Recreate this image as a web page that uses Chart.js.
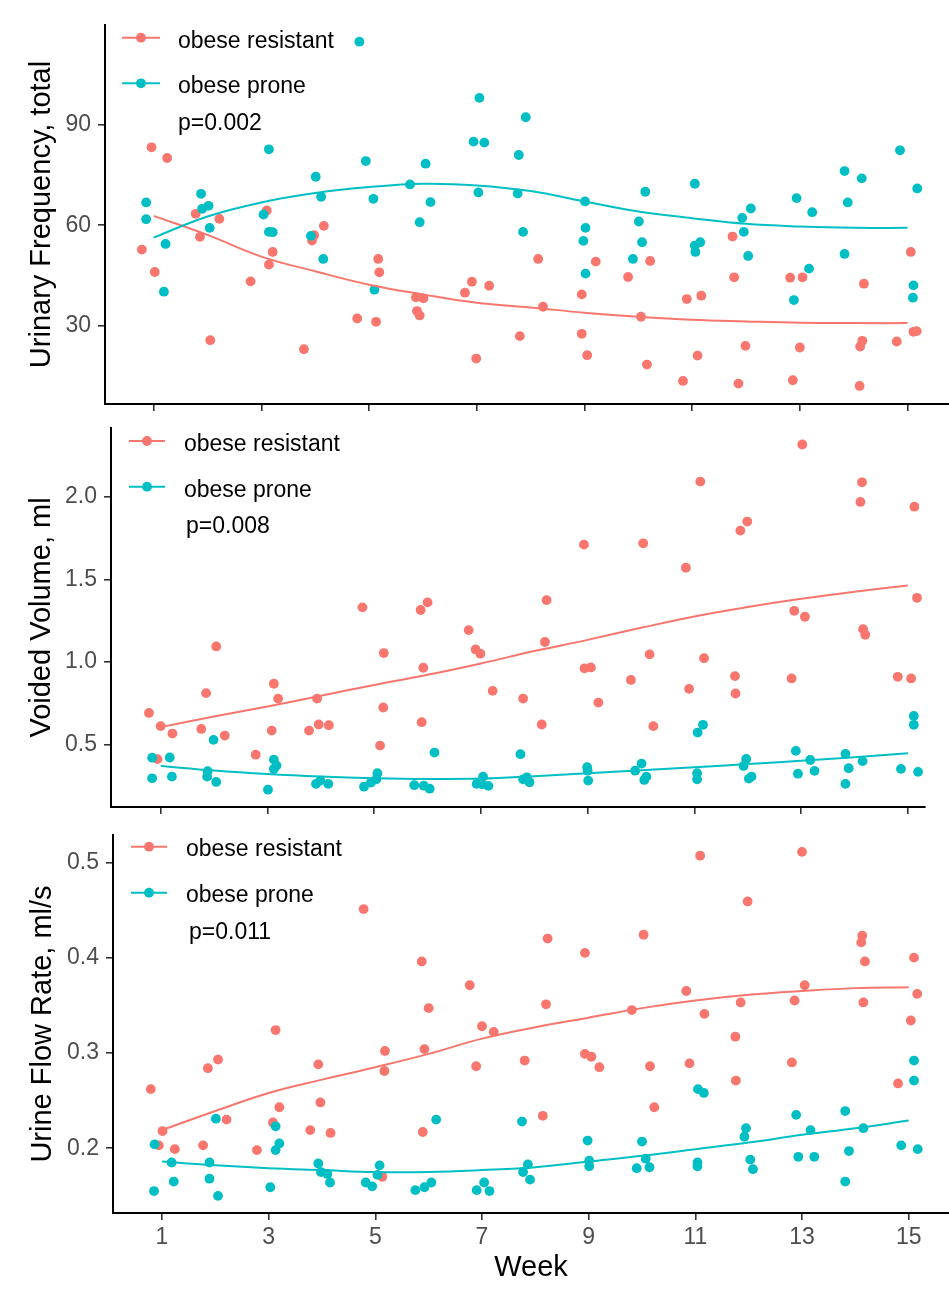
<!DOCTYPE html>
<html>
<head>
<meta charset="utf-8">
<script src="https://cdn.jsdelivr.net/npm/chart.js@4.4.1/dist/chart.umd.min.js"></script>
<style>
html,body{margin:0;padding:0;background:#fff;}
#wrap{position:relative;width:949px;height:1292px;overflow:hidden;}
canvas{position:absolute;left:0;}
</style>
</head>
<body>
<div id="wrap">
<canvas id="c1" width="949" height="420" style="top:0px"></canvas>
<canvas id="c2" width="949" height="400" style="top:420px"></canvas>
<canvas id="c3" width="949" height="472" style="top:820px"></canvas>
</div>
<script>
// ---------- data ----------
const groupLabels = ['obese resistant', 'obese prone'];
const weeks = [1,2,3,4,5,6,7,8,9,10,11,12,13,14,15];
const weekTicks = [1,3,5,7,9,11,13,15];
const xTitle = 'Week';

// Panel 1: Urinary frequency
const freqTitle = 'Urinary Frequency, total';
const freqTicks = [30,60,90];
const freqP = 'p=0.002';
const freqResWeek = [0.78,0.96,1.02,1.25,1.78,1.86,2.05,2.22,2.80,3.10,3.14,3.21,3.79,3.94,3.98,4.16,4.78,5.13,5.17,5.19,5.87,6.01,5.89,5.94,6.78,6.91,6.99,7.23,8.14,7.80,8.23,8.95,8.95,9.05,9.21,9.81,10.05,10.22,10.16,10.83,10.90,11.17,11.10,11.75,11.78,11.86,11.99,12.82,13.05,12.87,13.00,14.19,14.16,14.12,14.11,14.80,15.06,15.11,15.17];
const freqResVal = [52.7,83.3,46.0,80.1,63.4,56.5,25.6,61.9,43.2,64.4,48.2,52.0,22.9,55.4,57.0,59.8,32.1,31.1,49.9,45.9,38.4,38.1,34.3,33.0,39.8,43.1,20.1,41.9,49.9,26.8,35.6,27.5,39.3,21.1,49.1,44.5,32.6,49.3,18.3,13.4,37.9,38.9,21.0,56.6,44.4,12.6,23.9,44.3,44.4,13.6,23.4,42.5,25.4,23.7,11.9,25.2,52.0,28.1,28.3];
const freqProWeek = [4.82,0.86,0.86,1.22,1.19,1.88,1.90,2.02,2.04,3.14,3.04,3.14,3.21,4.01,4.11,3.92,4.15,4.94,5.08,5.10,5.76,6.05,6.14,5.94,6.94,7.03,7.05,7.14,7.91,7.78,7.76,7.86,9.01,9.02,8.98,9.02,10.13,10.01,10.07,9.90,11.05,11.05,11.15,11.06,11.93,12.09,11.96,12.04,12.94,13.23,13.17,12.89,13.83,14.15,13.89,13.83,14.86,15.18,15.11,15.10];
const freqProVal = [114.9,66.8,61.8,54.4,40.1,69.4,64.9,65.8,59.2,82.7,63.2,58.0,57.9,74.5,68.5,56.8,49.9,79.2,67.9,40.7,72.2,78.4,66.9,60.9,85.0,69.8,98.1,84.7,92.3,81.0,69.5,58.0,67.1,59.2,55.3,45.5,70.0,61.1,54.9,49.9,72.4,53.9,54.9,52.0,62.2,65.0,58.0,50.8,68.1,63.9,47.0,37.6,76.2,74.0,66.8,51.4,82.4,71.0,42.0,38.3];
const freqResFit = [62.8,57.1,50.6,46.2,42.2,39.3,36.8,35.4,33.8,32.6,31.7,31.2,30.8,30.7,30.7];
const freqProFit = [56.3,62.6,66.8,69.6,71.4,72.4,71.9,70.2,67.1,64.1,62.1,60.4,59.6,59.2,59.2];

// Panel 2: Voided volume
const volTitle = 'Voided Volume, ml';
const volTicks = [0.5,1.0,1.5,2.0];
const volP = 'p=0.008';
const volResWeek = [0.78,1.00,0.94,1.22,1.76,1.85,2.04,2.20,2.78,3.12,3.20,3.08,3.93,3.78,3.96,4.15,4.78,5.18,5.17,5.11,5.87,6.00,5.92,5.89,6.77,6.90,6.99,7.22,7.79,8.14,8.23,8.20,8.93,8.94,9.06,9.20,9.81,10.04,10.16,10.23,10.84,10.90,11.11,11.18,11.86,11.99,11.76,11.77,13.02,12.87,13.07,12.82,14.14,14.11,14.16,14.20,14.81,15.12,15.17,15.06];
const volResVal = [0.69,0.61,0.41,0.565,0.593,0.81,1.093,0.553,0.437,0.867,0.777,0.583,0.777,0.583,0.62,0.616,1.33,1.053,0.723,0.492,1.314,1.36,0.964,0.634,1.192,1.075,1.049,0.824,0.777,0.62,1.374,1.12,1.71,0.96,0.966,0.753,0.89,1.718,1.045,0.61,1.57,0.836,2.092,1.022,1.795,1.85,0.913,0.808,2.317,1.309,1.273,0.899,2.088,1.969,1.198,1.164,0.909,1.94,1.388,0.899];
const volProWeek = [0.84,1.17,0.84,1.21,1.99,1.88,1.87,2.04,3.01,3.12,3.17,3.12,3.91,3.99,4.14,4.81,4.94,5.06,5.04,5.75,5.93,6.04,6.13,6.92,7.04,7.02,7.14,7.74,7.79,7.86,7.91,8.99,9.01,9.00,10.01,9.89,10.10,10.06,11.16,11.06,11.05,11.05,11.97,11.92,12.07,12.02,12.90,13.17,13.25,12.94,13.83,14.15,13.89,13.83,14.87,15.11,15.11,15.19];
const volProVal = [0.419,0.42,0.294,0.304,0.527,0.337,0.304,0.272,0.225,0.407,0.371,0.35,0.26,0.28,0.26,0.243,0.268,0.325,0.288,0.252,0.249,0.231,0.45,0.26,0.304,0.258,0.248,0.44,0.288,0.30,0.27,0.361,0.28,0.34,0.383,0.34,0.304,0.284,0.618,0.571,0.325,0.288,0.411,0.369,0.304,0.292,0.46,0.405,0.339,0.322,0.442,0.398,0.355,0.26,0.351,0.672,0.618,0.333];
const volResFit = [0.604,0.668,0.729,0.794,0.860,0.921,0.990,1.065,1.133,1.206,1.275,1.332,1.382,1.425,1.463];
const volProFit = [0.369,0.341,0.320,0.305,0.295,0.290,0.292,0.307,0.325,0.343,0.361,0.380,0.400,0.422,0.446];

// Panel 3: Urine flow rate
const flowTitle = 'Urine Flow Rate, ml/s';
const flowTicks = [0.2,0.3,0.4,0.5];
const flowP = 'p=0.011';
const flowResWeek = [0.79,1.01,0.94,1.24,1.86,2.05,1.77,2.21,2.78,3.13,3.20,3.08,3.93,3.97,3.78,4.16,4.78,5.18,5.17,5.13,5.87,6.00,5.92,5.89,6.77,6.89,7.00,7.22,7.80,8.14,8.23,8.20,8.93,8.93,9.05,9.20,9.81,10.03,10.15,10.23,10.83,10.89,11.09,11.17,11.98,11.85,11.75,11.76,13.00,13.05,12.86,12.81,14.13,14.11,14.18,14.15,14.80,15.10,15.16,15.04];
const flowResVal = [0.262,0.218,0.203,0.199,0.284,0.293,0.203,0.230,0.198,0.324,0.243,0.227,0.288,0.248,0.219,0.216,0.451,0.302,0.281,0.170,0.396,0.347,0.304,0.217,0.371,0.286,0.328,0.322,0.292,0.234,0.420,0.351,0.405,0.299,0.296,0.285,0.345,0.424,0.286,0.243,0.365,0.289,0.507,0.341,0.459,0.353,0.317,0.271,0.511,0.371,0.355,0.290,0.423,0.416,0.396,0.353,0.268,0.400,0.362,0.334];
const flowProWeek = [0.86,0.85,1.18,1.22,2.01,1.89,1.89,2.05,3.03,3.13,3.20,3.13,3.93,3.98,4.10,4.15,4.82,4.94,5.08,5.04,5.75,5.92,6.05,6.14,6.90,7.04,7.14,7.75,7.86,7.77,7.90,8.98,9.01,9.01,10.00,10.07,9.90,10.14,11.05,11.16,11.04,11.04,11.95,11.92,12.03,12.08,12.89,13.16,12.93,13.23,13.81,14.15,13.88,13.81,14.86,15.10,15.10,15.17];
const flowProVal = [0.204,0.155,0.185,0.165,0.231,0.185,0.168,0.150,0.159,0.223,0.205,0.198,0.184,0.175,0.173,0.164,0.164,0.160,0.182,0.172,0.156,0.159,0.164,0.230,0.156,0.164,0.155,0.228,0.183,0.175,0.167,0.208,0.187,0.181,0.207,0.189,0.179,0.180,0.262,0.258,0.185,0.181,0.221,0.212,0.188,0.178,0.235,0.219,0.191,0.191,0.239,0.221,0.197,0.165,0.203,0.292,0.271,0.199];
const flowResFit = [0.219,0.239,0.258,0.272,0.285,0.299,0.315,0.327,0.337,0.347,0.355,0.361,0.365,0.368,0.369];
const flowProFit = [0.186,0.182,0.179,0.177,0.175,0.175,0.177,0.180,0.186,0.192,0.199,0.206,0.214,0.221,0.229];

// ---------- styling ----------
const RED = '#F8766D';
const CYAN = '#00BFC4';
const FONT = '"Liberation Sans", Arial, Helvetica, sans-serif';
Chart.defaults.font.family = FONT;

const pts = (xs, ys) => xs.map((x, i) => ({x: x, y: ys[i]}));

const legendPlugin = {
  id: 'inlineLegend',
  afterDraw(chart, args, o) {
    if (!o || !o.rows) return;
    const ctx = chart.ctx, ca = chart.chartArea;
    ctx.save();
    [RED, CYAN].forEach((col, i) => {
      const y = ca.top + o.rows[i];
      const x0 = ca.left + o.lineX0, x1 = ca.left + o.lineX1;
      ctx.strokeStyle = col; ctx.lineWidth = 2;
      ctx.beginPath(); ctx.moveTo(x0, y); ctx.lineTo(x1, y); ctx.stroke();
      ctx.fillStyle = col;
      ctx.beginPath(); ctx.arc((x0 + x1) / 2, y, 4.9, 0, Math.PI * 2); ctx.fill();
      ctx.fillStyle = '#000';
      ctx.font = '23px ' + FONT;
      ctx.textAlign = 'left'; ctx.textBaseline = 'alphabetic';
      ctx.fillText(groupLabels[i], ca.left + o.textX, ca.top + o.base[i]);
    });
    ctx.fillStyle = '#000';
    ctx.font = '23px ' + FONT;
    ctx.fillText(o.pText, ca.left + o.pX, ca.top + o.base[2]);
    ctx.restore();
  }
};

function makePanel(id, p) {
  const datasets = [
    {label: groupLabels[0], data: pts(p.resW, p.resV), backgroundColor: RED, pointBackgroundColor: RED,
     pointRadius: 4.9, pointBorderWidth: 0, showLine: false, order: 4},
    {label: groupLabels[1], data: pts(p.proW, p.proV), backgroundColor: CYAN, pointBackgroundColor: CYAN,
     pointRadius: 4.9, pointBorderWidth: 0, showLine: false, order: 3},
    {label: groupLabels[0] + ' fit', data: pts(weeks, p.resFit), borderColor: RED, borderWidth: 2,
     pointRadius: 0, showLine: true, tension: 0.4, fill: false, order: 2},
    {label: groupLabels[1] + ' fit', data: pts(weeks, p.proFit), borderColor: CYAN, borderWidth: 2,
     pointRadius: 0, showLine: true, tension: 0.4, fill: false, order: 1}
  ];
  return new Chart(document.getElementById(id), {
    type: 'scatter',
    data: {datasets},
    plugins: [legendPlugin],
    options: {
      responsive: false, animation: false, devicePixelRatio: 1, events: [],
      layout: {padding: p.pad, autoPadding: false},
      plugins: {
        legend: {display: false}, tooltip: {enabled: false},
        inlineLegend: p.legend
      },
      scales: {
        x: {
          type: 'linear', min: p.xMin, max: p.xMax,
          afterBuildTicks: s => { s.ticks = weekTicks.map(v => ({value: v})); },
          afterFit: s => { s.height = p.xH; s.paddingLeft = 0; s.paddingRight = 0; s.paddingTop = 0; s.paddingBottom = 0; },
          ticks: {display: p.xLabels, autoSkip: false, maxRotation: 0, padding: 4,
                  color: '#4D4D4D', font: {size: 23}, callback: v => String(v)},
          grid: {drawOnChartArea: false, drawTicks: true, tickLength: 7, color: '#333333', lineWidth: 1.6},
          border: {display: true, color: '#000000', width: 2},
          title: {display: p.xLabels, text: xTitle, color: '#000', font: {size: 29}, padding: 0}
        },
        y: {
          type: 'linear', min: p.yMin, max: p.yMax,
          afterBuildTicks: s => { s.ticks = p.yTicks.map(v => ({value: v})); },
          afterFit: s => { s.width = p.yW; s.paddingLeft = 0; s.paddingRight = 0; s.paddingTop = 0; s.paddingBottom = 0; },
          ticks: {padding: 7, color: '#4D4D4D', font: {size: 23}, callback: v => v.toFixed(p.dec)},
          grid: {drawOnChartArea: false, drawTicks: true, tickLength: 7, color: '#333333', lineWidth: 1.6},
          border: {display: true, color: '#000000', width: 2},
          title: {display: true, text: p.yTitle, color: '#000', font: {size: 29}, padding: 0}
        }
      }
    }
  });
}

makePanel('c1', {
  resW: freqResWeek, resV: freqResVal, proW: freqProWeek, proV: freqProVal,
  resFit: freqResFit, proFit: freqProFit, yTicks: freqTicks, yTitle: freqTitle, dec: 0,
  xMin: 0.096, xMax: 15.77, yMin: 6.5, yMax: 119.9,
  pad: {left: 25, right: 0, top: 25, bottom: 0}, yW: 80, xH: 16, xLabels: false,
  legend: {rows: [12.7, 58.3], base: [23.3, 68.3, 105], lineX0: 17, lineX1: 55, textX: 73, pX: 73, pText: freqP}
});
makePanel('c2', {
  resW: volResWeek, resV: volResVal, proW: volProWeek, proV: volProVal,
  resFit: volResFit, proFit: volProFit, yTicks: volTicks, yTitle: volTitle, dec: 1,
  xMin: 0.069, xMax: 15.32, yMin: 0.12, yMax: 2.417,
  pad: {left: 25, right: 24, top: 8, bottom: 0}, yW: 86, xH: 13, xLabels: false,
  legend: {rows: [13, 58.7], base: [22.7, 68.7, 104.7], lineX0: 18, lineX1: 54, textX: 73, pX: 75, pText: volP}
});
makePanel('c3', {
  resW: flowResWeek, resV: flowResVal, proW: flowProWeek, proV: flowProVal,
  resFit: flowResFit, proFit: flowProFit, yTicks: flowTicks, yTitle: flowTitle, dec: 1,
  xMin: 0.081, xMax: 15.756, yMin: 0.132, yMax: 0.5287,
  pad: {left: 26, right: 0, top: 15, bottom: 7}, yW: 87, xH: 72, xLabels: true,
  legend: {rows: [11.7, 57.7], base: [21, 66.7, 104.3], lineX0: 18, lineX1: 54, textX: 73, pX: 76, pText: flowP}
});
</script>
</body>
</html>
